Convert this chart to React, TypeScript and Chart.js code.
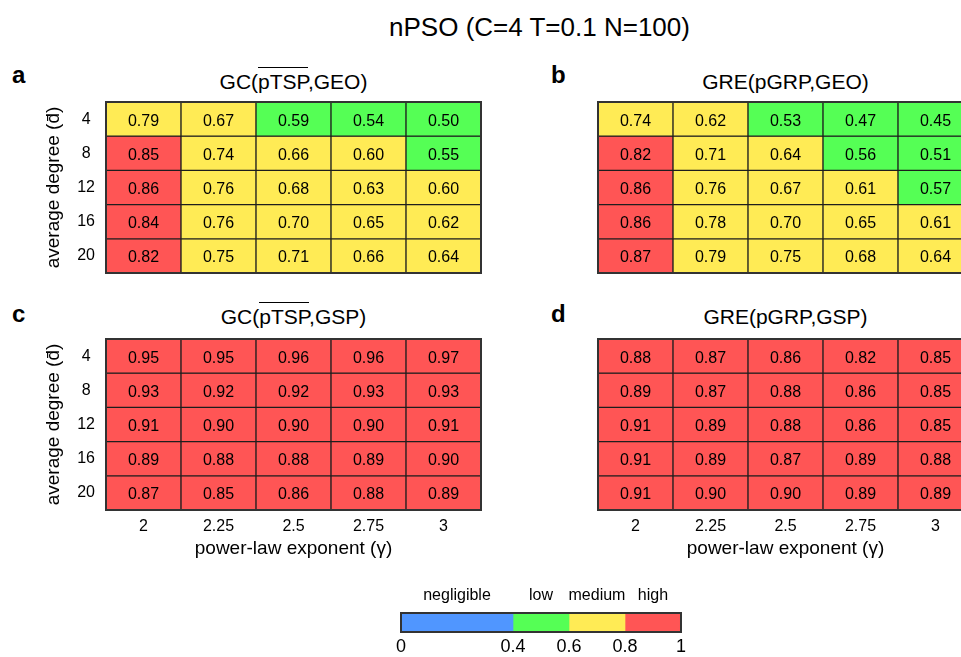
import React, { useEffect, useRef } from 'react';
import { Chart, registerables } from 'chart.js';

Chart.register(...registerables);

const FONT = '"Liberation Sans", Arial, Helvetica, sans-serif';

// ---- data ----
const gammaLabels = ['2', '2.25', '2.5', '2.75', '3'];
const degreeLabels = ['4', '8', '12', '16', '20'];

const gcGeoValues = [
  [0.79, 0.67, 0.59, 0.54, 0.5],
  [0.85, 0.74, 0.66, 0.6, 0.55],
  [0.86, 0.76, 0.68, 0.63, 0.6],
  [0.84, 0.76, 0.7, 0.65, 0.62],
  [0.82, 0.75, 0.71, 0.66, 0.64],
];
const greGeoValues = [
  [0.74, 0.62, 0.53, 0.47, 0.45],
  [0.82, 0.71, 0.64, 0.56, 0.51],
  [0.86, 0.76, 0.67, 0.61, 0.57],
  [0.86, 0.78, 0.7, 0.65, 0.61],
  [0.87, 0.79, 0.75, 0.68, 0.64],
];
const gcGspValues = [
  [0.95, 0.95, 0.96, 0.96, 0.97],
  [0.93, 0.92, 0.92, 0.93, 0.93],
  [0.91, 0.9, 0.9, 0.9, 0.91],
  [0.89, 0.88, 0.88, 0.89, 0.9],
  [0.87, 0.85, 0.86, 0.88, 0.89],
];
const greGspValues = [
  [0.88, 0.87, 0.86, 0.82, 0.85],
  [0.89, 0.87, 0.88, 0.86, 0.85],
  [0.91, 0.89, 0.88, 0.86, 0.85],
  [0.91, 0.89, 0.87, 0.89, 0.88],
  [0.91, 0.9, 0.9, 0.89, 0.89],
];

const levelBounds = [0, 0.4, 0.6, 0.8, 1];
const levelNames = ['negligible', 'low', 'medium', 'high'];
const levelColors = ['#5096FF', '#55FF55', '#FFEB55', '#FF5555'];

const mainTitle = 'nPSO (C=4 T=0.1 N=100)';
const xTitle = 'power-law exponent (\u03B3)';
const yTitle = 'average degree (d\u0304)';

function levelColor(v: number) {
  for (let i = levelBounds.length - 2; i >= 0; i--) {
    if (v >= levelBounds[i]) return levelColors[i];
  }
  return levelColors[0];
}

// ---- plugins ----
function makeFrame(width: number, color: string) {
  return {
    id: 'frame',
    afterDatasetsDraw(chart: any) {
      const { left, top, right, bottom } = chart.chartArea;
      const ctx = chart.ctx;
      ctx.save();
      ctx.strokeStyle = color;
      ctx.lineWidth = width;
      ctx.strokeRect(left, top, right - left, bottom - top);
      ctx.restore();
    },
  };
}

const cellLabelPlugin = {
  id: 'cellLabels',
  afterDatasetsDraw(chart: any) {
    const ctx = chart.ctx;
    ctx.save();
    ctx.font = `16px ${FONT}`;
    ctx.fillStyle = '#000';
    ctx.textAlign = 'center';
    ctx.textBaseline = 'middle';
    chart.data.datasets.forEach((ds: any, di: number) => {
      const meta = chart.getDatasetMeta(di);
      meta.data.forEach((el: any, j: number) => {
        const { x, y, base } = el.getProps(['x', 'y', 'base'], true);
        ctx.fillText(ds.cellValues[j].toFixed(2), x, (y + base) / 2 + 2);
      });
    });
    ctx.restore();
  },
};

// ---- geometry ----
const AREA_W = 375;
const AREA_H = 171;
const PAD = 2;
const Y_AXIS_W = 106;
const X_AXIS_H = 50;

type HeatProps = { values: number[][]; left: number; top: number; showX: boolean; showY: boolean };

function Heatmap({ values, left, top, showX, showY }: HeatProps) {
  const ref = useRef<HTMLCanvasElement>(null);
  const width = (showY ? Y_AXIS_W : PAD) + AREA_W + PAD;
  const height = PAD + AREA_H + (showX ? X_AXIS_H : PAD);

  useEffect(() => {
    const chart = new Chart(ref.current as HTMLCanvasElement, {
      type: 'bar',
      data: {
        labels: gammaLabels,
        datasets: values.map((row, i) => ({
          label: degreeLabels[i],
          data: row.map(() => [i, i + 1]),
          cellValues: row,
          backgroundColor: row.map(levelColor),
          borderColor: '#1e1e1e',
          borderWidth: 1,
          borderSkipped: false,
          grouped: false,
          barPercentage: 1,
          categoryPercentage: 1,
        })) as any,
      },
      options: {
        responsive: false,
        animation: false,
        layout: {
          padding: { left: showY ? 0 : PAD, right: PAD, top: PAD, bottom: showX ? 0 : PAD },
        },
        plugins: { legend: { display: false }, tooltip: { enabled: false } },
        scales: {
          x: {
            type: 'category',
            display: showX,
            grid: { display: false, drawTicks: false },
            border: { display: false },
            ticks: {
              color: '#000',
              font: { family: FONT, size: 16 },
              padding: 7,
              maxRotation: 0,
              autoSkip: false,
            },
            title: {
              display: true,
              text: xTitle,
              color: '#000',
              font: { family: FONT, size: 19 },
              padding: 0,
            },
            afterFit: (s: any) => {
              if (showX) s.height = X_AXIS_H;
              s.paddingLeft = 0;
              s.paddingRight = 0;
            },
          },
          y: {
            type: 'linear',
            display: showY,
            reverse: true,
            min: 0,
            max: values.length,
            afterBuildTicks: (s: any) => {
              s.ticks = degreeLabels.map((_, i) => ({ value: i + 0.5 }));
            },
            grid: { display: false, drawTicks: false },
            border: { display: false },
            ticks: {
              color: '#000',
              font: { family: FONT, size: 16 },
              padding: 11,
              crossAlign: 'center',
              autoSkip: false,
              callback: (_v: any, i: number) => degreeLabels[i],
            },
            title: {
              display: true,
              text: yTitle,
              color: '#000',
              font: { family: FONT, size: 19 },
              padding: { top: 42, bottom: 0 },
            },
            afterFit: (s: any) => {
              if (showY) s.width = Y_AXIS_W;
              s.paddingTop = 0;
              s.paddingBottom = 0;
            },
          },
        },
      } as any,
      plugins: [makeFrame(2, '#333'), cellLabelPlugin],
    });
    return () => chart.destroy();
  }, []);

  return (
    <canvas
      ref={ref}
      width={width}
      height={height}
      style={{ position: 'absolute', left, top, width, height }}
    />
  );
}

function ColorBar() {
  const ref = useRef<HTMLCanvasElement>(null);
  const width = 300;
  const height = 79;
  useEffect(() => {
    const chart = new Chart(ref.current as HTMLCanvasElement, {
      type: 'bar',
      data: {
        labels: ['level'],
        datasets: levelNames.map((name, i) => ({
          label: name,
          data: [[levelBounds[i], levelBounds[i + 1]]],
          backgroundColor: levelColors[i],
          borderWidth: 0,
          grouped: false,
          barPercentage: 1,
          categoryPercentage: 1,
        })) as any,
      },
      options: {
        indexAxis: 'y',
        responsive: false,
        animation: false,
        layout: { padding: { left: 11, right: 9, top: 0, bottom: 0 } },
        plugins: { legend: { display: false }, tooltip: { enabled: false } },
        scales: {
          y: { display: false },
          x: {
            type: 'linear',
            position: 'bottom',
            min: 0,
            max: 1,
            grid: { display: false, drawTicks: false },
            border: { display: false },
            afterBuildTicks: (s: any) => {
              s.ticks = levelBounds.map((v) => ({ value: v }));
            },
            ticks: {
              color: '#000',
              font: { family: FONT, size: 18 },
              padding: 4,
              autoSkip: false,
              maxRotation: 0,
              callback: (v: any) => String(v),
            },
            afterFit: (s: any) => {
              s.height = 25;
            },
          },
          xTop: {
            type: 'linear',
            axis: 'x',
            position: 'top',
            display: true,
            min: 0,
            max: 1,
            grid: { display: false, drawTicks: false },
            border: { display: false },
            afterBuildTicks: (s: any) => {
              s.ticks = levelNames.map((_, i) => ({ value: (levelBounds[i] + levelBounds[i + 1]) / 2 }));
            },
            ticks: {
              color: '#000',
              font: { family: FONT, size: 16 },
              padding: 8,
              autoSkip: false,
              maxRotation: 0,
              callback: (_v: any, i: number) => levelNames[i],
            },
            afterFit: (s: any) => {
              s.height = 35;
            },
          },
        },
      } as any,
      plugins: [makeFrame(2, '#333')],
    });
    return () => chart.destroy();
  }, []);
  return (
    <canvas
      ref={ref}
      width={width}
      height={height}
      style={{ position: 'absolute', left: 390, top: 578, width, height }}
    />
  );
}

function Text({
  children,
  cx,
  left,
  baseline,
  size,
  bold,
}: {
  children: any;
  cx?: number;
  left?: number;
  baseline: number;
  size: number;
  bold?: boolean;
}) {
  const top = baseline - 0.8465 * size;
  const style: any = {
    position: 'absolute',
    top,
    fontFamily: FONT,
    fontSize: size,
    lineHeight: `${size}px`,
    fontWeight: bold ? 'bold' : 'normal',
    color: '#000',
    whiteSpace: 'nowrap',
  };
  if (cx !== undefined) {
    style.left = cx - 250;
    style.width = 500;
    style.textAlign = 'center';
  } else {
    style.left = left;
  }
  return <div style={style}>{children}</div>;
}

const over = { borderTop: '1.5px solid #000', paddingTop: 2 };

export default function App() {
  return (
    <div
      style={{
        position: 'fixed',
        left: 0,
        top: 0,
        width: 961,
        height: 657,
        overflow: 'hidden',
        background: '#fff',
      }}
    >
      <Text cx={539.5} baseline={36} size={26}>
        {mainTitle}
      </Text>

      <Text left={12} baseline={83} size={24} bold>
        a
      </Text>
      <Text left={551} baseline={83} size={24} bold>
        b
      </Text>
      <Text left={12} baseline={322} size={24} bold>
        c
      </Text>
      <Text left={551} baseline={322} size={24} bold>
        d
      </Text>

      <Text cx={293.5} baseline={89} size={21}>
        GC(<span style={over}>pTSP</span>,GEO)
      </Text>
      <Text cx={785.5} baseline={89} size={21}>
        GRE(pGRP,GEO)
      </Text>
      <Text cx={293.5} baseline={324} size={21}>
        GC(<span style={over}>pTSP</span>,GSP)
      </Text>
      <Text cx={785.5} baseline={324} size={21}>
        GRE(pGRP,GSP)
      </Text>

      <Heatmap values={gcGeoValues} left={0} top={100} showX={false} showY={true} />
      <Heatmap values={greGeoValues} left={596} top={100} showX={false} showY={false} />
      <Heatmap values={gcGspValues} left={0} top={337} showX={true} showY={true} />
      <Heatmap values={greGspValues} left={596} top={337} showX={true} showY={false} />

      <ColorBar />
    </div>
  );
}
